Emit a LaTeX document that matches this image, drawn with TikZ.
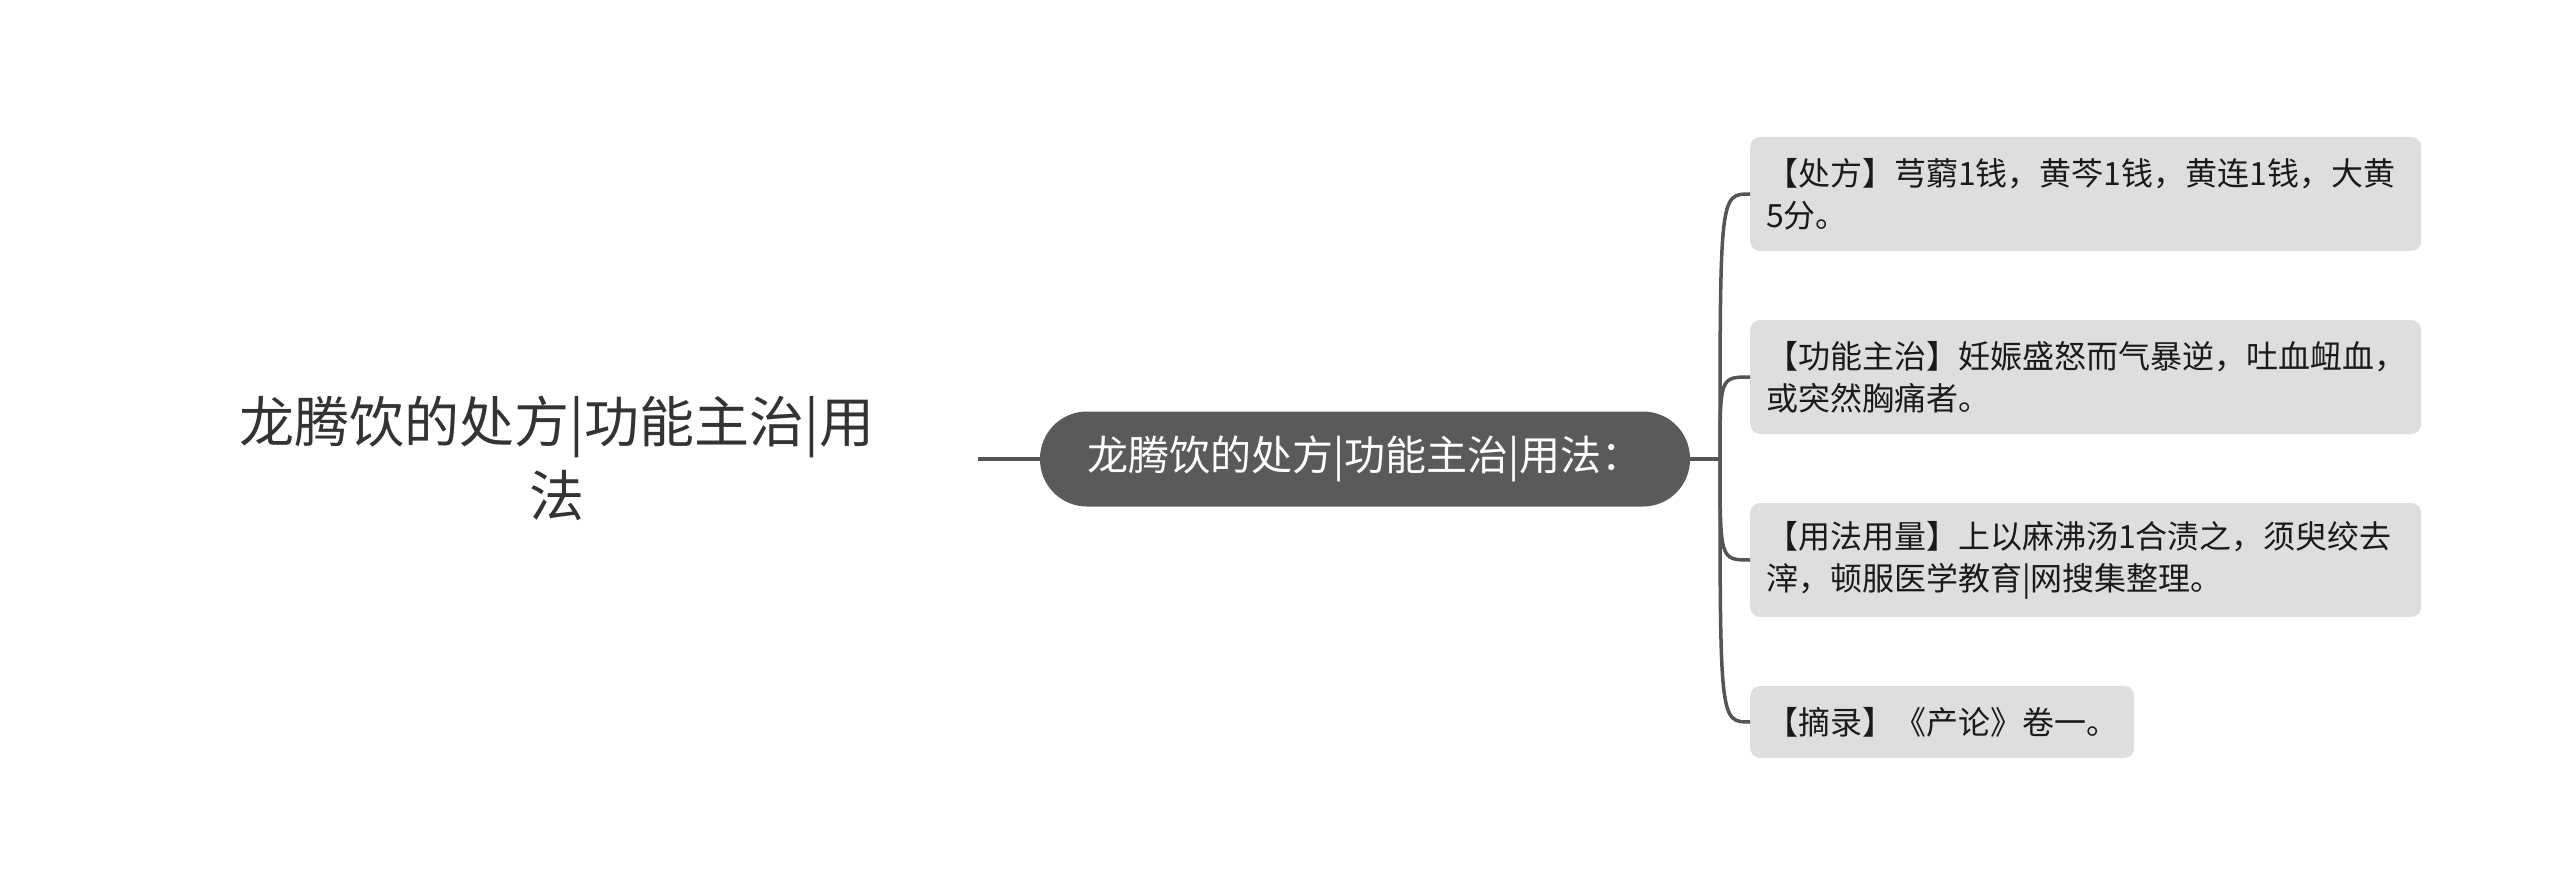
\documentclass[tikz,border=0pt]{standalone}
\usepackage{fontspec}
\setmainfont{Noto Sans CJK SC}
\usetikzlibrary{calc}
\definecolor{edgegray}{HTML}{555555}
\definecolor{pillgray}{HTML}{5A5A5A}
\definecolor{boxgray}{HTML}{DEDEDE}
\definecolor{roottext}{HTML}{333333}
\definecolor{leaftext}{HTML}{1A1A1A}
\begin{document}
\begin{tikzpicture}[x=1pt,y=-1pt,
  conn/.style={draw=edgegray,line width=3.5pt},
  leafbox/.style={fill=boxgray,rounded corners=10pt,anchor=west,align=left,
    inner xsep=16pt,inner ysep=0pt,font=\fontsize{32}{42}\selectfont,text=leaftext},
  pill/.style={fill=pillgray,rounded corners=47pt,minimum width=650pt,minimum height=95pt,
    inner sep=0pt,text=white,font=\fontsize{41}{49}\selectfont},
  roottitle/.style={align=center,text=roottext,font=\fontsize{55}{74}\selectfont}]
\useasboundingbox (0,0) rectangle (2560,896);

\node[roottitle] (root) at (557,458) {龙腾饮的处方|功能主治|用\\法};
\coordinate (rootr) at (978,459);
\node[pill] (mid) at (1365,459) {龙腾饮的处方|功能主治|用法：};

\node[leafbox,text width=639pt,minimum height=114pt] (b1) at (1750,194)
  {【处方】芎藭1钱，黄芩1钱，黄连1钱，大黄\\5分。};
\node[leafbox,text width=639pt,minimum height=114pt] (b2) at (1750,377)
  {【功能主治】妊娠盛怒而气暴逆，吐血衄血，\\或突然胸痛者。};
\node[leafbox,text width=639pt,minimum height=114pt] (b3) at (1750,560)
  {【用法用量】上以麻沸汤1合渍之，须臾绞去\\滓，顿服医学教育|网搜集整理。};
\node[leafbox,text width=352pt,minimum height=72pt] (b4) at (1750,722)
  {【摘录】《产论》卷一。};

\draw[conn] (rootr) -- (mid.west);
\coordinate (J) at (1720,459);
\draw[conn] (mid.east) -- (J);
\foreach \b in {b1,b2,b3,b4}{
  \draw[conn] (J) .. controls (J |- \b.west) .. (\b.west);
}
\end{tikzpicture}
\end{document}
